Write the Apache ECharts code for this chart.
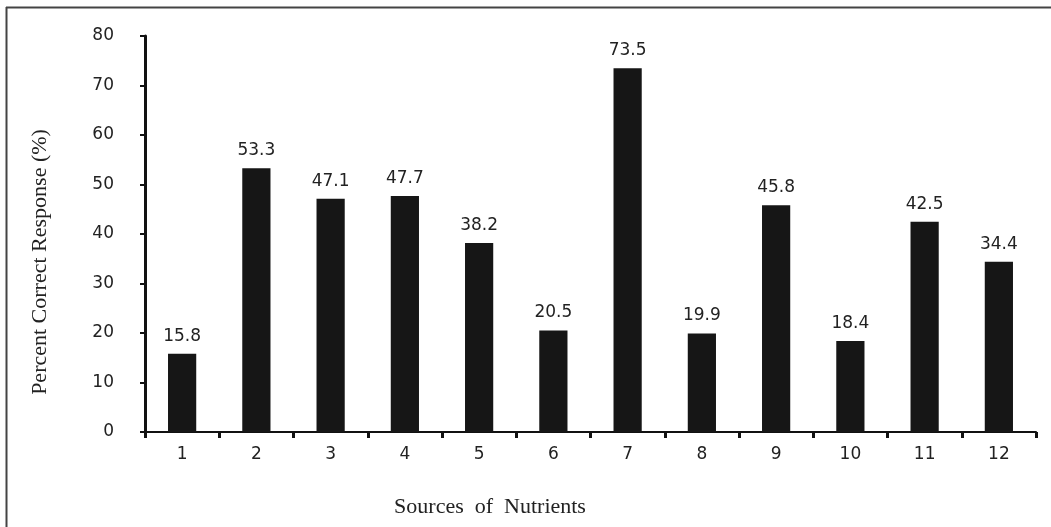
<!DOCTYPE html>
<html><head><meta charset="utf-8">
<script src="https://cdn.jsdelivr.net/npm/echarts@6/dist/echarts.min.js"></script>
<style>html,body{margin:0;padding:0;background:#fff}#c{width:1051px;height:527px}</style>
</head><body><div id="c"></div>
<script>
const categories = ['1','2','3','4','5','6','7','8','9','10','11','12'];
const values = [15.8, 53.3, 47.1, 47.7, 38.2, 20.5, 73.5, 19.9, 45.8, 18.4, 42.5, 34.4];
const yTicks = [0,10,20,30,40,50,60,70,80];
const chart = echarts.init(document.getElementById('c'), null, {renderer:'canvas'});
chart.setOption({
  animation:false,
  backgroundColor:'#fff',
  grid:{left:145,right:15,top:36,bottom:95,containLabel:false},
  xAxis:{type:'category',data:categories,
    axisLine:{lineStyle:{color:'#111',width:2}},
    axisTick:{show:true,alignWithLabel:false,length:6,lineStyle:{color:'#111',width:3}},
    axisLabel:{color:'#222',fontFamily:'DejaVu Sans',fontSize:17,margin:14}},
  yAxis:{type:'value',min:0,max:80,interval:10,
    axisLine:{show:true,lineStyle:{color:'#111',width:3}},
    axisTick:{show:true,length:5,lineStyle:{color:'#111',width:2}},
    splitLine:{show:false},
    axisLabel:{color:'#222',fontFamily:'DejaVu Sans',fontSize:17,margin:31,
      formatter:v=>yTicks.includes(v)?String(v):''}},
  series:[{type:'bar',data:values,barWidth:'38%',
    itemStyle:{color:'#161616'},
    label:{show:true,position:'top',distance:9,color:'#222',fontFamily:'DejaVu Sans',fontSize:17,
      formatter:p=>p.value.toFixed(1)}}],
  graphic:[
    {type:'line',shape:{x1:6,y1:7.5,x2:1051,y2:7.5},style:{stroke:'#444',lineWidth:2}},
    {type:'line',shape:{x1:6.5,y1:7,x2:6.5,y2:527},style:{stroke:'#444',lineWidth:2}},
    {type:'text',rotation:Math.PI/2,x:40,y:262,
      style:{text:'Percent Correct Response (%)',fontFamily:'Liberation Serif',fontSize:22,fill:'#222',textAlign:'center',textVerticalAlign:'middle'}},
    {type:'text',x:490,y:507,
      style:{text:'Sources  of  Nutrients',fontFamily:'Liberation Serif',fontSize:22,fill:'#222',textAlign:'center',textVerticalAlign:'middle'}}
  ]
});
</script></body></html>
